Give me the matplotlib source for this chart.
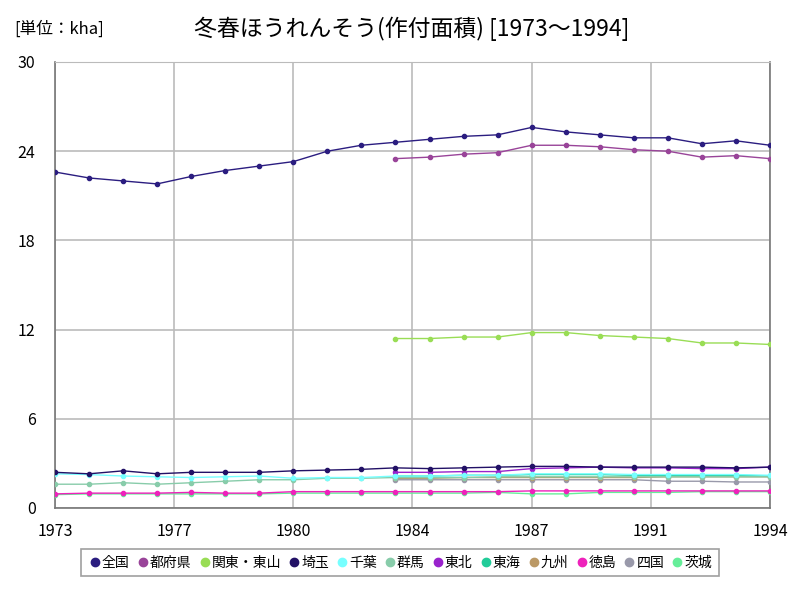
import numpy as np
import matplotlib
matplotlib.use("Agg")
import matplotlib.pyplot as plt
from matplotlib.lines import Line2D

plt.rcParams['font.family'] = ['Noto Sans CJK JP', 'DejaVu Sans']

years = list(range(1973, 1995))
nan = np.nan

# 作付面積 (kha)
zenkoku = [22.6, 22.2, 22.0, 21.8, 22.3, 22.7, 23.0, 23.3, 24.0, 24.4, 24.6,
           24.8, 25.0, 25.1, 25.6, 25.3, 25.1, 24.9, 24.9, 24.5, 24.7, 24.4]
tofuken = [nan] * 10 + [23.5, 23.6, 23.8, 23.9, 24.4, 24.4, 24.3, 24.1, 24.0, 23.6, 23.7, 23.5]
kanto = [nan] * 10 + [11.4, 11.4, 11.5, 11.5, 11.8, 11.8, 11.6, 11.5, 11.4, 11.1, 11.1, 11.0]
saitama = [2.4, 2.3, 2.5, 2.3, 2.4, 2.4, 2.4, 2.5, 2.55, 2.6, 2.7,
           2.65, 2.7, 2.75, 2.8, 2.8, 2.75, 2.75, 2.75, 2.75, 2.7, 2.75]
chiba = [2.3, 2.25, 2.15, 2.1, 2.05, 2.1, 2.15, 2.0, 2.05, 2.05, 2.15,
         2.15, 2.2, 2.2, 2.3, 2.3, 2.3, 2.25, 2.25, 2.25, 2.25, 2.2]
gunma = [1.6, 1.6, 1.7, 1.6, 1.7, 1.8, 1.9, 1.9, 2.0, 2.0, 2.05,
         2.05, 2.05, 2.1, 2.1, 2.1, 2.1, 2.1, 2.1, 2.1, 2.1, 2.1]
tohoku = [nan] * 10 + [2.4, 2.4, 2.45, 2.45, 2.65, 2.7, 2.75, 2.7, 2.7, 2.65, 2.65, 2.75]
tokai = [nan] * 10 + [2.15, 2.15, 2.2, 2.2, 2.25, 2.25, 2.25, 2.2, 2.2, 2.2, 2.2, 2.15]
kyushu = [nan] * 10 + [2.0, 2.0, 2.05, 2.05, 2.05, 2.05, 2.05, 2.05, 2.1, 2.1, 2.1, 2.1]
tokushima = [0.95, 1.0, 1.0, 1.0, 1.05, 1.0, 1.0, 1.1, 1.1, 1.1, 1.1,
             1.1, 1.1, 1.1, 1.15, 1.15, 1.15, 1.15, 1.15, 1.15, 1.15, 1.15]
shikoku = [nan] * 10 + [1.9, 1.9, 1.9, 1.9, 1.9, 1.9, 1.9, 1.9, 1.8, 1.8, 1.75, 1.75]
ibaraki = [0.9, 0.95, 0.95, 0.95, 0.95, 0.95, 0.95, 1.0, 1.0, 1.0, 1.0,
           1.0, 1.0, 1.05, 0.95, 0.95, 1.05, 1.05, 1.05, 1.1, 1.1, 1.1]

names = ['全国', '都府県', '関東・東山', '埼玉', '千葉', '群馬', '東北', '東海', '九州', '徳島', '四国', '茨城']
series = [zenkoku, tofuken, kanto, saitama, chiba, gunma, tohoku, tokai, kyushu, tokushima, shikoku, ibaraki]
colors = ['#2b1d80', '#994499', '#99dd55', '#221166', '#77ffff', '#88ccaa',
          '#9922cc', '#22cc99', '#bb9966', '#ee22bb', '#9999aa', '#66ee99']

fig = plt.figure(figsize=(8, 6), dpi=100)
ax = fig.add_axes([55 / 800, 92 / 600, 715 / 800, 446 / 600])

# 小さい値から順に描いて上の線が見えるようにする
for i in reversed(range(len(series))):
    ax.plot(years, series[i], color=colors[i], linewidth=1.0,
            marker='o', markersize=3, zorder=3 + (len(series) - i) * 0.01)

ax.set_xlim(1973, 1994)
ax.set_ylim(0, 30)
xt = [1973 + 3.5 * k for k in range(7)]
ax.set_xticks(xt)
ax.set_xticklabels(['1973', '1977', '1980', '1984', '1987', '1991', '1994'])
ax.set_yticks([0, 6, 12, 18, 24, 30])
ax.tick_params(length=0, labelsize=11.5)
ax.tick_params(axis='x', pad=11)
ax.tick_params(axis='y', pad=14)
ax.grid(color='#bbbbbb', linewidth=1.2)
ax.set_axisbelow(True)
for s in ['left', 'bottom', 'right']:
    ax.spines[s].set_color('#777777')
    ax.spines[s].set_linewidth(1.2)
ax.spines['top'].set_color('#bbbbbb')

fig.text(0.018, 0.952, '[単位：kha]', fontsize=12, ha='left', va='center')
fig.text(0.515, 0.952, '冬春ほうれんそう(作付面積) [1973〜1994]', fontsize=16.5, ha='center', va='center')

handles = [Line2D([], [], linestyle='none', marker='o', markersize=6, color=c) for c in colors]
leg = fig.legend(handles, names, loc='center', bbox_to_anchor=(0.5, 0.9625 - 0.9), ncol=12,
                 fontsize=10, frameon=True, fancybox=False, handletextpad=0.0,
                 columnspacing=0.45, handlelength=1.0, borderpad=0.5)
leg.get_frame().set_edgecolor('#888888')
leg.get_frame().set_linewidth(1.2)

fig.savefig('out.png', dpi=100)
